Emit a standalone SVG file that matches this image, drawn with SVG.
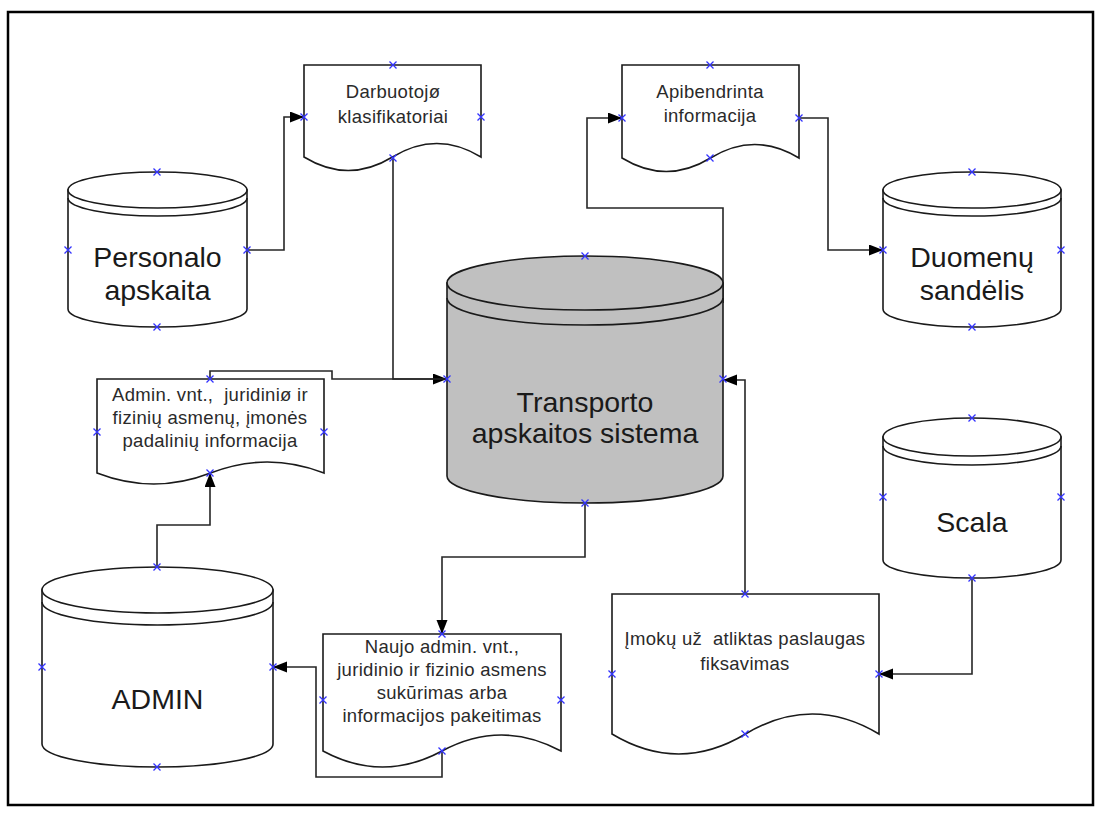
<svg xmlns="http://www.w3.org/2000/svg" xmlns:xlink="http://www.w3.org/1999/xlink" width="1103" height="816" viewBox="0 0 1103 816">
<style>
.shape{fill:#ffffff;stroke:#1a1a1a;stroke-width:1.6}
.gray{fill:#c0c0c0}
.line{fill:none;stroke:#1a1a1a;stroke-width:1.6}
.conn{fill:none;stroke:#262626;stroke-width:1.6}
.big{font-family:"Liberation Sans",Arial,sans-serif;font-size:28.5px;fill:#1a1a1a;text-anchor:middle}
.small{font-family:"Liberation Sans",Arial,sans-serif;font-size:18.5px;fill:#2a2a2a;text-anchor:middle;letter-spacing:0.3px;white-space:pre}
.pt{stroke:#3333ff;stroke-width:1.3;fill:none}
</style>
<defs>
<marker id="arr" markerUnits="userSpaceOnUse" markerWidth="15" markerHeight="12" refX="14" refY="5.5" orient="auto">
<path d="M0,0 L14,5.5 L0,11 Z" fill="#000"/>
</marker>
<path id="x" class="pt" d="M-3.5,-3.5 L3.5,3.5 M-3.5,3.5 L3.5,-3.5"/>
</defs>
<rect x="8" y="12" width="1085" height="793" fill="#fff" stroke="#000" stroke-width="2.5"/>

<g id="connectors">
<path class="conn" d="M247,250 H284 V117 H304" marker-end="url(#arr)"/>
<path class="conn" d="M393,158 V379 H447" marker-end="url(#arr)"/>
<path class="conn" d="M210,379 V371 H332 V379 H447"/>
<path class="conn" d="M723,303 V208 H587 V118 H622" marker-end="url(#arr)"/>
<path class="conn" d="M799,118 H828 V250 H883" marker-end="url(#arr)"/>
<path class="conn" d="M585,503 V557 H442 V634" marker-end="url(#arr)"/>
<path class="conn" d="M745,594 V380 H723" marker-end="url(#arr)"/>
<path class="conn" d="M972,578 V674 H879" marker-end="url(#arr)"/>
<path class="conn" d="M442,751 V777 H316 V667 H273" marker-end="url(#arr)"/>
<path class="conn" d="M157,567 V525 H210 V473" marker-end="url(#arr)"/>
</g>

<g id="doc-darbuotoju">
<path class="shape" d="M304,65 H481 V157 Q436.75,130 392.5,157 T304,157 Z"/>
<text class="small" x="393" y="98">Darbuotojø</text>
<text class="small" x="393" y="123">klasifikatoriai</text>
<use href="#x" x="393" y="65"/><use href="#x" x="304" y="117"/><use href="#x" x="481" y="117"/><use href="#x" x="393" y="158"/>
</g>

<g id="doc-apibendrinta">
<path class="shape" d="M622,65 H799 V158 Q754.75,131 710.5,158 T622,158 Z"/>
<text class="small" x="710" y="98">Apibendrinta</text>
<text class="small" x="710" y="122">informacija</text>
<use href="#x" x="710" y="65"/><use href="#x" x="622" y="118"/><use href="#x" x="799" y="118"/><use href="#x" x="710" y="158"/>
</g>

<g id="db-personalo">
<path class="shape" d="M68,190 V309 A89.5,18 0 0 0 247,309 V190 Z"/>
<ellipse class="shape" cx="157.5" cy="190" rx="89.5" ry="18"/>
<path class="line" d="M68,198 A89.5,18 0 0 0 247,198"/>
<text class="big" x="157.5" y="267">Personalo</text>
<text class="big" x="157.5" y="300">apskaita</text>
<use href="#x" x="157" y="172"/><use href="#x" x="68" y="250"/><use href="#x" x="247" y="250"/><use href="#x" x="157" y="327"/>
</g>

<g id="db-duomenu">
<path class="shape" d="M883,190 V309 A89,18 0 0 0 1061,309 V190 Z"/>
<ellipse class="shape" cx="972" cy="190" rx="89" ry="18"/>
<path class="line" d="M883,198 A89,18 0 0 0 1061,198"/>
<text class="big" x="972" y="267">Duomenų</text>
<text class="big" x="972" y="300">sandėlis</text>
<use href="#x" x="972" y="172"/><use href="#x" x="883" y="250"/><use href="#x" x="1061" y="250"/><use href="#x" x="972" y="327"/>
</g>

<g id="db-transporto">
<path class="shape gray" d="M447,283 V476 A138,27 0 0 0 723,476 V283 Z"/>
<ellipse class="shape gray" cx="585" cy="283" rx="138" ry="27"/>
<path class="line" d="M447,298 A138,27 0 0 0 723,298"/>
<text class="big" x="585" y="412">Transporto</text>
<text class="big" x="585" y="443">apskaitos sistema</text>
<use href="#x" x="585" y="256"/><use href="#x" x="447" y="379"/><use href="#x" x="723" y="379"/><use href="#x" x="585" y="503"/>
</g>

<g id="doc-admin-info">
<path class="shape" d="M97,379 H324 V473 Q267.25,451 210.5,473 T97,473 Z"/>
<text class="small" x="210" y="401">Admin. vnt.,  juridiniø ir</text>
<text class="small" x="210" y="424">fizinių asmenų, įmonės</text>
<text class="small" x="210" y="447">padalinių informacija</text>
<use href="#x" x="210" y="379"/><use href="#x" x="97" y="432"/><use href="#x" x="324" y="432"/><use href="#x" x="210" y="473"/>
</g>

<g id="db-scala">
<path class="shape" d="M883,437 V560 A89,18 0 0 0 1061,560 V437 Z"/>
<ellipse class="shape" cx="972" cy="437" rx="89" ry="19"/>
<path class="line" d="M883,446 A89,19 0 0 0 1061,446"/>
<text class="big" x="972" y="532">Scala</text>
<use href="#x" x="972" y="418"/><use href="#x" x="883" y="497"/><use href="#x" x="1061" y="497"/><use href="#x" x="972" y="578"/>
</g>

<g id="db-admin">
<path class="shape" d="M42,590 V744 A115.5,23 0 0 0 273,744 V590 Z"/>
<ellipse class="shape" cx="157.5" cy="590" rx="115.5" ry="23"/>
<path class="line" d="M42,602 A115.5,23 0 0 0 273,602"/>
<text class="big" x="157.5" y="709">ADMIN</text>
<use href="#x" x="157" y="567"/><use href="#x" x="42" y="667"/><use href="#x" x="273" y="667"/><use href="#x" x="157" y="767"/>
</g>

<g id="doc-naujo">
<path class="shape" d="M323,634 H561 V751 Q501.5,719 442,751 T323,751 Z"/>
<text class="small" x="442" y="653">Naujo admin. vnt.,</text>
<text class="small" x="442" y="676">juridinio ir fizinio asmens</text>
<text class="small" x="442" y="699">sukūrimas arba</text>
<text class="small" x="442" y="722">informacijos pakeitimas</text>
<use href="#x" x="442" y="634"/><use href="#x" x="323" y="700"/><use href="#x" x="561" y="700"/><use href="#x" x="442" y="751"/>
</g>

<g id="doc-imoku">
<path class="shape" d="M612,594 H879 V734 Q812.25,694 745.5,734 T612,734 Z"/>
<text class="small" x="745" y="645">Įmokų už  atliktas paslaugas</text>
<text class="small" x="745" y="670">fiksavimas</text>
<use href="#x" x="745" y="594"/><use href="#x" x="612" y="674"/><use href="#x" x="879" y="674"/><use href="#x" x="745" y="734"/>
</g>
</svg>
